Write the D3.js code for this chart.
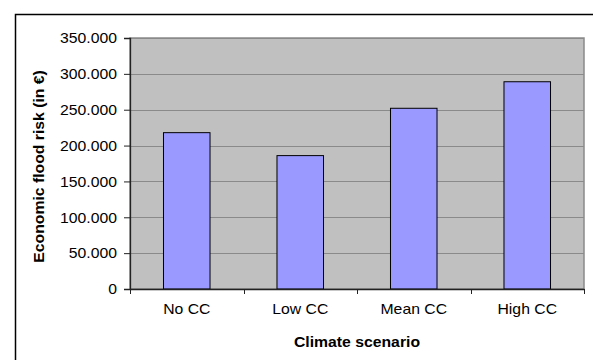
<!DOCTYPE html>
<html>
<head>
<meta charset="utf-8">
<script src="https://cdn.jsdelivr.net/npm/d3@7"></script>
<style>
  html, body { margin: 0; padding: 0; background: #fff; }
  svg { display: block; font-family: "Liberation Sans", Arial, sans-serif; }
</style>
</head>
<body>
<svg id="chart" width="593" height="360"></svg>
<script>
const categories = ["No CC", "Low CC", "Mean CC", "High CC"];
const values = [218000, 186000, 252000, 289000];
const yTicks = [0, 50000, 100000, 150000, 200000, 250000, 300000, 350000];
const yTitle = "Economic flood risk (in €)";
const xTitle = "Climate scenario";

const svg = d3.select("#chart");
const plot = { left: 130, right: 584, top: 38, bottom: 289 };
const stretch = 1.05;
const fs = 15;

// outer chart border (extends beyond the visible area on right and bottom)
svg.append("rect")
  .attr("x", 15.5).attr("y", 14.5)
  .attr("width", 600).attr("height", 400)
  .attr("fill", "#fff").attr("stroke", "#000").attr("stroke-width", 1.5);

const x = d3.scaleBand().domain(categories)
  .range([plot.left, plot.right]).paddingInner(0.59).paddingOuter(0.295);
const x0 = d3.scaleBand().domain(categories)
  .range([plot.left, plot.right]).padding(0);
const y = d3.scaleLinear().domain([0, 350000]).range([plot.bottom, plot.top]);

// plot area background
svg.append("rect")
  .attr("x", plot.left).attr("y", plot.top)
  .attr("width", plot.right - plot.left).attr("height", plot.bottom - plot.top)
  .attr("fill", "#c0c0c0").attr("stroke", "#8a8a8a").attr("stroke-width", 1.5);

// gridlines
svg.append("g").selectAll("line").data(yTicks.filter(d => d > 0)).join("line")
  .attr("x1", plot.left).attr("x2", plot.right)
  .attr("y1", d => Math.round(y(d)) + 0.5).attr("y2", d => Math.round(y(d)) + 0.5)
  .attr("stroke", "#8a8a8a").attr("stroke-width", 1.2);

// bars
svg.append("g").selectAll("rect").data(categories).join("rect")
  .attr("x", d => x(d)).attr("width", x.bandwidth())
  .attr("y", (d, i) => y(values[i])).attr("height", (d, i) => y(0) - y(values[i]))
  .attr("fill", "#9999ff").attr("stroke", "#000").attr("stroke-width", 1);

const locale = d3.formatLocale({ decimal: ",", thousands: ".", grouping: [3], currency: ["", "€"] });
const fmt = locale.format(",");

// y axis
const yAxis = svg.append("g").attr("transform", `translate(${plot.left},0)`)
  .call(d3.axisLeft(y).tickValues(yTicks).tickFormat(fmt).tickSize(6).tickPadding(7));
yAxis.select(".domain").attr("stroke", "#222").attr("stroke-width", 1.3);
yAxis.selectAll(".tick line").attr("stroke", "#222");
yAxis.selectAll(".tick text").attr("font-size", fs).attr("fill", "#000")
  .attr("font-family", "Liberation Sans, Arial, sans-serif");

// x axis
const xAxis = svg.append("g").attr("transform", `translate(0,${plot.bottom})`)
  .call(d3.axisBottom(x).tickSize(0).tickPadding(14));
xAxis.select(".domain").attr("stroke", "#222").attr("stroke-width", 1.3);
xAxis.selectAll(".tick text").attr("font-size", fs).attr("fill", "#000")
  .attr("font-family", "Liberation Sans, Arial, sans-serif");
const boundaries = categories.map(c => x0(c)).concat([plot.right]);
xAxis.append("g").selectAll("line").data(boundaries).join("line")
  .attr("x1", d => Math.round(d) + 0.5).attr("x2", d => Math.round(d) + 0.5)
  .attr("y1", 0).attr("y2", 5).attr("stroke", "#222");

// axis titles
svg.append("text")
  .attr("x", (plot.left + plot.right) / 2).attr("y", 347)
  .attr("text-anchor", "middle").attr("font-size", fs).attr("font-weight", "bold")
  .text(xTitle);
svg.append("text")
  .attr("transform", `translate(44,${(plot.top + plot.bottom) / 2 + 3}) rotate(-90)`)
  .attr("text-anchor", "middle").attr("font-size", fs).attr("font-weight", "bold")
  .text(yTitle);

// widen text slightly to match reference rendering
svg.selectAll("text").each(function () {
  const w = this.getComputedTextLength();
  d3.select(this).attr("textLength", w * stretch).attr("lengthAdjust", "spacingAndGlyphs");
});
</script>
</body>
</html>
